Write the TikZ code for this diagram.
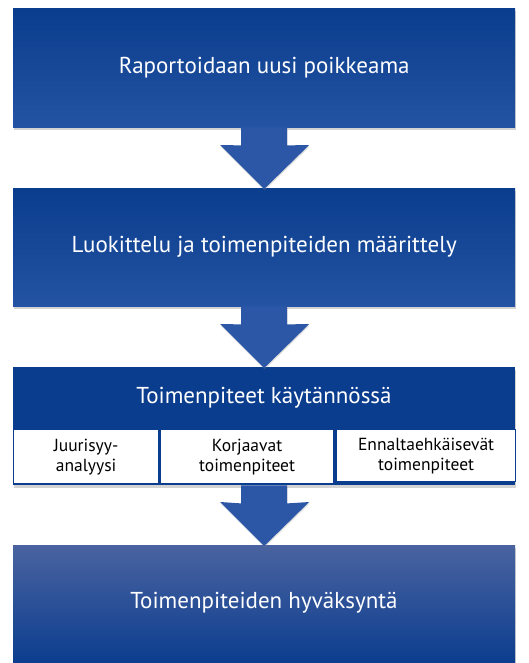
\documentclass[tikz,border=0pt]{standalone}
\usepackage{fontspec}
\setmainfont{PT Sans}
\usetikzlibrary{shadows,calc}
\definecolor{bdark}{HTML}{0B3D8E}
\definecolor{blight}{HTML}{2353A2}
\definecolor{btop}{HTML}{4A63A0}
\definecolor{bmid}{HTML}{22509E}
\definecolor{arrowc}{HTML}{2C57A6}
\begin{document}
\begin{tikzpicture}[x=1pt,y=-1pt,
  bigbox/.style={draw=none,minimum width=502pt,inner sep=0pt,anchor=north west,
     drop shadow={shadow xshift=1pt,shadow yshift=-3pt,opacity=0.35}},
  boxtext/.style={text=white,font=\fontsize{23}{27}\selectfont},
  subbox/.style={draw=bdark,line width=1.2pt,fill=white,inner sep=0pt,anchor=north west,align=center,
     font=\fontsize{17.5}{20}\selectfont,minimum height=54pt},
  flowarrow/.style={fill=arrowc,draw=none,drop shadow={shadow xshift=0.5pt,shadow yshift=-1.5pt,opacity=0.25}}]
\useasboundingbox (0,0) rectangle (528,663);
% boxes
\node[bigbox,minimum height=119pt,top color=bdark,bottom color=blight] (b1) at (13,8) {};
\node[boxtext] at (b1.center) (t1) {Raportoidaan uusi poikkeama};
\node[bigbox,minimum height=118pt,top color=bdark,bottom color=blight] (b2) at (13,188) {};
\node[boxtext] at (b2.center) (t2) {Luokittelu ja toimenpiteiden määrittely};
\node[bigbox,minimum height=118pt,fill=bdark] (b3) at (13,367) {};
\node[boxtext] at (264,398) (t3) {Toimenpiteet käytännössä};
\node[bigbox,minimum height=118pt,top color=btop,middle color=bmid,bottom color=bdark] (b4) at (13,545) {};
\node[boxtext] at (264,603) (t4) {Toimenpiteiden hyväksyntä};
% sub boxes
\node[subbox,minimum width=145pt] (s1) at (13,429) {Juurisyy-\\analyysi};
\node[subbox,minimum width=173pt] (s2) at (160,429) {Korjaavat\\toimenpiteet};
\node[subbox,minimum width=179pt,minimum height=52pt] (s3) at (336,429) {Ennaltaehkäisevät\\toimenpiteet};
% arrows
\foreach \a/\b in {b1/b2,b2/b3,b3/b4}{
  \fill[flowarrow] ($(\a.south)+(-23,0)$) -- ($(\a.south)+(23,0)$) -- ($(\a.south)+(23,18)$)
     -- ($(\b.north)+(45,-43)$) -- ($(\b.north)+(0,1)$) -- ($(\b.north)+(-44,-43)$)
     -- ($(\a.south)+(-23,18)$) -- cycle;
}
\end{tikzpicture}
\end{document}
